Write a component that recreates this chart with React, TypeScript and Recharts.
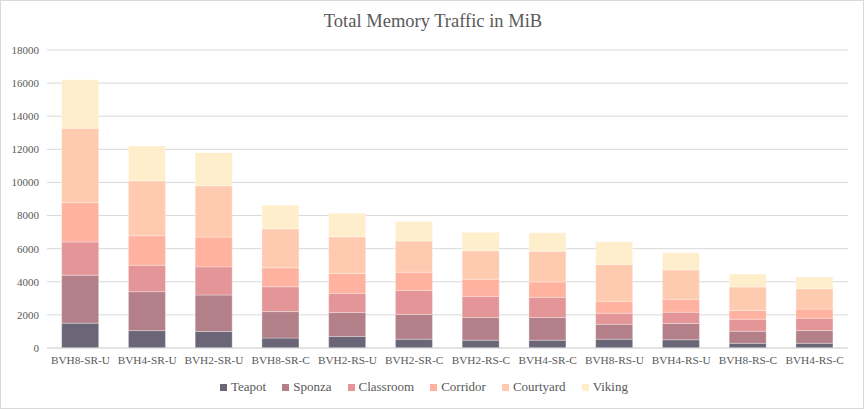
import React from 'react';
import {
  BarChart,
  Bar,
  XAxis,
  YAxis,
  CartesianGrid,
  Legend
} from 'recharts';

const categories = [
  'BVH8-SR-U',
  'BVH4-SR-U',
  'BVH2-SR-U',
  'BVH8-SR-C',
  'BVH2-RS-U',
  'BVH2-SR-C',
  'BVH2-RS-C',
  'BVH4-SR-C',
  'BVH8-RS-U',
  'BVH4-RS-U',
  'BVH8-RS-C',
  'BVH4-RS-C'
];

const teapot = [1500, 1050, 1000, 600, 700, 530, 470, 470, 530, 500, 280, 280];
const sponza = [2900, 2350, 2200, 1600, 1450, 1500, 1370, 1370, 900, 980, 730, 770];
const classroom = [2000, 1600, 1700, 1500, 1150, 1450, 1280, 1220, 670, 680, 730, 750];
const corridor = [2380, 1780, 1800, 1150, 1200, 1100, 1030, 930, 730, 790, 530, 550];
const courtyard = [4500, 3320, 3100, 2350, 2220, 1880, 1720, 1860, 2210, 1760, 1410, 1230];
const viking = [2920, 2100, 2000, 1430, 1420, 1180, 1120, 1110, 1380, 1040, 790, 710];

const yTicks = [0, 2000, 4000, 6000, 8000, 10000, 12000, 14000, 16000, 18000];

const series = [
  { key: 'Teapot', values: teapot, color: '#6b6677' },
  { key: 'Sponza', values: sponza, color: '#b3808a' },
  { key: 'Classroom', values: classroom, color: '#e39598' },
  { key: 'Corridor', values: corridor, color: '#ffb29f' },
  { key: 'Courtyard', values: courtyard, color: '#ffcbb0' },
  { key: 'Viking', values: viking, color: '#ffeecc' }
];

const data = categories.map((name, i) => {
  const row: Record<string, string | number> = { name };
  series.forEach(s => {
    row[s.key] = s.values[i];
  });
  return row;
});

const FONT = 'Liberation Serif, DejaVu Serif';
const TEXT = '#595959';

const renderLegend = () => (
  <div
    style={{
      display: 'flex',
      justifyContent: 'center',
      alignItems: 'center',
      paddingTop: 7,
      fontFamily: FONT,
      fontSize: 13,
      color: TEXT
    }}
  >
    {series.map(s => (
      <span
        key={s.key}
        style={{ display: 'inline-flex', alignItems: 'center', margin: '0 8px' }}
      >
        <span
          style={{
            display: 'inline-block',
            width: 7,
            height: 7,
            background: s.color,
            marginRight: 4
          }}
        />
        {s.key}
      </span>
    ))}
  </div>
);

export default function App() {
  return (
    <div
      style={{
        position: 'absolute',
        left: 0,
        top: 0,
        width: 864,
        height: 409,
        boxSizing: 'border-box',
        border: '1px solid #d9d9d9',
        background: '#fff'
      }}
    >
      <div
        style={{
          position: 'absolute',
          left: 0,
          top: 10,
          width: 864,
          textAlign: 'center',
          fontFamily: FONT,
          fontSize: 18.5,
          color: TEXT
        }}
      >
        Total Memory Traffic in MiB
      </div>
      <BarChart
        width={862}
        height={407}
        data={data}
        barCategoryGap="22%"
        margin={{ top: 49, right: 15, left: -1, bottom: 8 }}
      >
        <CartesianGrid vertical={false} stroke="#d9d9d9" />
        <XAxis
          dataKey="name"
          tickLine={false}
          axisLine={{ stroke: '#d9d9d9' }}
          tick={{ fill: TEXT, fontSize: 11.3, fontFamily: FONT }}
          tickMargin={2}
          interval={0}
          height={24}
        />
        <YAxis
          ticks={yTicks}
          domain={[0, 18000]}
          width={47}
          tickLine={false}
          axisLine={false}
          tick={{ fill: TEXT, fontSize: 11, fontFamily: FONT }}
        />
        <Legend verticalAlign="bottom" height={28} content={renderLegend} />
        {series.map(s => (
          <Bar
            key={s.key}
            dataKey={s.key}
            stackId="a"
            fill={s.color}
            stroke="#ffffff"
            strokeOpacity={0.5}
            strokeWidth={0.6}
            isAnimationActive={false}
          />
        ))}
      </BarChart>
    </div>
  );
}
